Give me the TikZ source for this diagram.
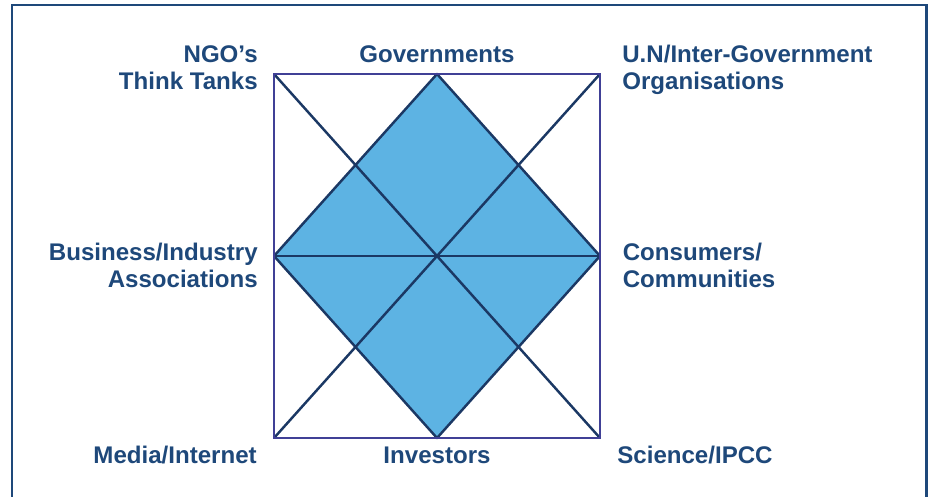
\documentclass[tikz,border=0pt]{standalone}
\usepackage{fontspec}
\setmainfont{Liberation Sans}
\usepackage{tikz}
\definecolor{navy}{RGB}{30,72,122}
\definecolor{linenavy}{RGB}{27,56,100}
\definecolor{boxline}{RGB}{64,64,150}
\definecolor{skyfill}{RGB}{93,179,227}
\tikzstyle{actor}=[font=\bfseries\fontsize{13.7}{15.3}\selectfont, text=navy, inner sep=0pt]
\tikzstyle{field}=[draw=boxline, line width=0.85pt, outer sep=0pt, minimum width=6.52cm, minimum height=7.28cm]

\begin{document}
\begin{tikzpicture}
      \useasboundingbox (0,0) rectangle (18.66,9.92);
      % outer frame, open at the foot
      \draw[navy, line width=1.7pt] (0.24,-0.3) -- (0.24,9.82) -- (18.52,9.82) -- (18.52,-0.3);

      \node[field](box) at (8.74,4.80) {};

      % stakeholders round the square
      \node[actor, anchor=east, align=right](ngo) at (5.16,8.56) {NGO’s\\Think Tanks};
      \node[actor](gov) at (8.74,8.84) {Governments};
      \node[actor, anchor=west, align=left](un) at (12.44,8.52) {U.N/Inter-Government\\Organisations};
      \node[actor, anchor=east, align=right](biz) at (5.16,4.62) {Business/Industry\\Associations};
      \node[actor, anchor=west, align=left](cons) at (12.45,4.62) {Consumers/\\Communities};
      \node[actor, anchor=east](media) at (5.14,0.82) {Media/Internet};
      \node[actor](inv) at (8.74,0.82) {Investors};
      \node[actor, anchor=west](sci) at (12.34,0.82) {Science/IPCC};

      \fill[skyfill] (box.north) -- (box.east) -- (box.south) -- (box.west) -- cycle;
      \begin{scope}[every path/.style={draw=linenavy, line width=1.4pt, line join=round}]
        \draw (box.north) -- (box.east) -- (box.south) -- (box.west) -- cycle;
        \draw (box.north west) -- (box.south east);
        \draw (box.north east) -- (box.south west);
        \draw (box.west) -- (box.east);
      \end{scope}
      \draw[boxline, line width=0.85pt] (box.north west) rectangle (box.south east);
    \end{tikzpicture}
\end{document}
